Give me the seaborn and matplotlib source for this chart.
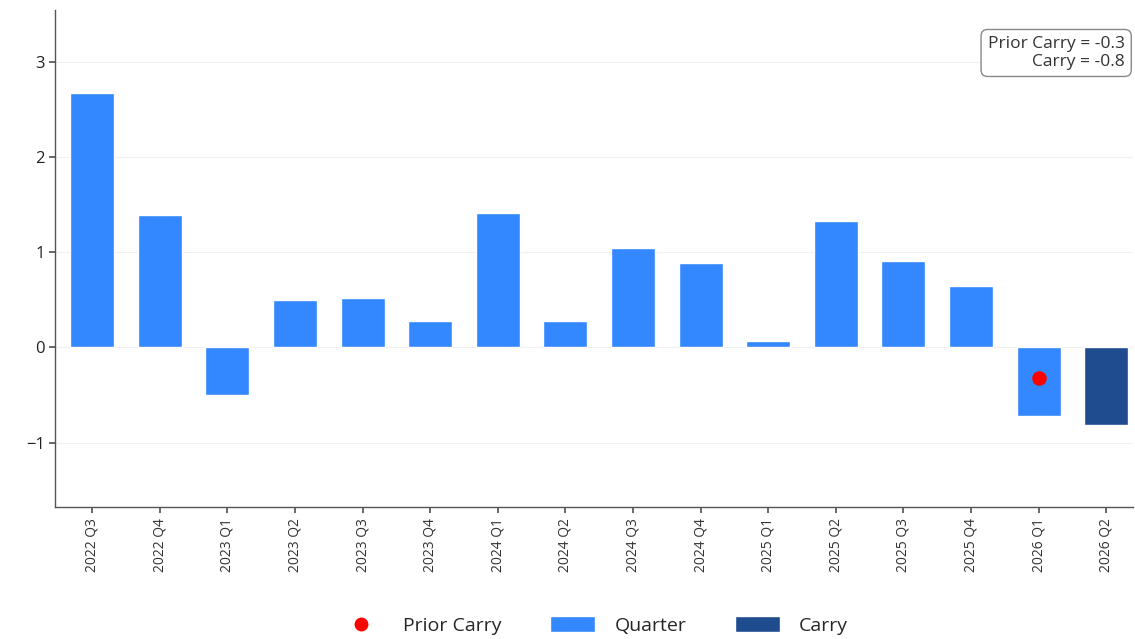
import matplotlib
matplotlib.use("Agg")
import matplotlib.pyplot as plt
from matplotlib.lines import Line2D
from matplotlib.patches import Patch
import seaborn as sns
import pandas as pd

quarters = ["2022 Q3", "2022 Q4", "2023 Q1", "2023 Q2", "2023 Q3", "2023 Q4",
            "2024 Q1", "2024 Q2", "2024 Q3", "2024 Q4", "2025 Q1", "2025 Q2",
            "2025 Q3", "2025 Q4", "2026 Q1", "2026 Q2"]
values = [2.67, 1.39, -0.50, 0.50, 0.52, 0.28, 1.41, 0.28, 1.04, 0.89,
          0.07, 1.33, 0.91, 0.64, -0.72, -0.82]
kinds = ["Quarter"] * 15 + ["Carry"]
prior_carry_quarter = "2026 Q1"
prior_carry = -0.32
carry = values[-1]

quarter_color = "#3387FF"
carry_color = "#1F4C8F"
dot_color = "#FF0000"

sns.set_theme(style="white")
plt.rcParams["font.family"] = ["Open Sans", "DejaVu Sans"]

df = pd.DataFrame({"quarter": quarters, "value": values, "kind": kinds})

fig = plt.figure(figsize=(11.35, 6.39), dpi=100)
ax = fig.add_axes([0.0485, 0.206, 0.95, 0.778])

sns.barplot(data=df, x="quarter", y="value", hue="kind",
            palette={"Quarter": quarter_color, "Carry": carry_color},
            dodge=False, width=0.65, saturation=1, legend=False, ax=ax)

xpos = quarters.index(prior_carry_quarter)
ax.scatter([xpos], [prior_carry], s=110, color=dot_color, zorder=5, linewidths=0)

ax.set_xlim(-0.55, 15.4)
ax.set_ylim(-1.68, 3.54)
ax.set_yticks([-1, 0, 1, 2, 3])
ax.set_xlabel("")
ax.set_ylabel("")
ax.yaxis.grid(True, color="#f0f0f0", linewidth=0.8)
ax.set_axisbelow(True)

for side in ["top", "right"]:
    ax.spines[side].set_visible(False)
for side in ["left", "bottom"]:
    ax.spines[side].set_color("#555555")
    ax.spines[side].set_linewidth(1.0)

ax.tick_params(axis="y", labelsize=12, length=4, color="#555555", left=True, labelcolor="#222222")
ax.tick_params(axis="x", labelsize=10, length=4, color="#555555", bottom=True, labelcolor="#333333")
plt.setp(ax.get_xticklabels(), rotation=90)

ax.text(0.992, 0.948, f"Prior Carry = {prior_carry:.1f}\nCarry = {carry:.1f}",
        transform=ax.transAxes, ha="right", va="top", fontsize=12.5,
        color="#333333", multialignment="right", linespacing=1.15,
        bbox=dict(boxstyle="round,pad=0.38", facecolor="white",
                  edgecolor="#888888", linewidth=1.0))

handles = [
    Line2D([0], [0], marker="o", linestyle="none", markersize=10,
           markerfacecolor=dot_color, markeredgewidth=0, label="Prior Carry"),
    Patch(facecolor=quarter_color, label="Quarter"),
    Patch(facecolor=carry_color, label="Carry"),
]
fig.legend(handles=handles, loc="center", bbox_to_anchor=(0.523, 0.021),
           ncol=3, frameon=False, fontsize=14, handlelength=2.3,
           handleheight=0.9, columnspacing=2.5, handletextpad=1.0)

fig.savefig("out.png", dpi=100)
